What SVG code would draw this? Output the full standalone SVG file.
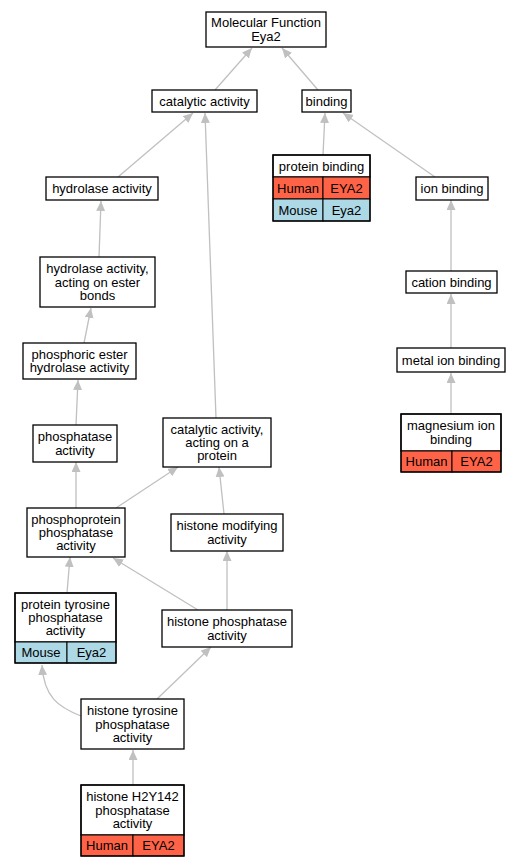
<svg xmlns="http://www.w3.org/2000/svg" width="520" height="867" viewBox="0 0 520 867">
<style>
.bg{fill:#ffffff}
.box{fill:#ffffff;stroke:#000000;stroke-width:1.3}
.hum{fill:#ff6347;stroke:#000000;stroke-width:1}
.mou{fill:#add8e6;stroke:#000000;stroke-width:1}
text{font-family:"Liberation Sans",Arial,sans-serif;font-size:13px;fill:#000000;text-anchor:middle}
.edge{fill:none;stroke:#c0c0c0;stroke-width:1.3;marker-end:url(#arr)}
</style>
<defs>
<marker id="arr" markerUnits="userSpaceOnUse" markerWidth="11" markerHeight="10" refX="10" refY="4.5" orient="auto">
<path d="M0,0 L10,4.5 L0,9 z" fill="#c0c0c0"/>
</marker>
</defs>
<rect class="bg" x="0" y="0" width="520" height="867"/>
<g id="edges">
<path class="edge" d="M215,90 L252,48"/>
<path class="edge" d="M318,90 L282,48"/>
<path class="edge" d="M118,177 L193,113"/>
<path class="edge" d="M216,418 L205,113"/>
<path class="edge" d="M323,155 L325,113"/>
<path class="edge" d="M435,177 L343,113"/>
<path class="edge" d="M99,257 L101,201"/>
<path class="edge" d="M84,343 L91,308"/>
<path class="edge" d="M76,425 L78,380"/>
<path class="edge" d="M451,271 L451,200"/>
<path class="edge" d="M451,348 L451,294"/>
<path class="edge" d="M451,414 L451,373"/>
<path class="edge" d="M76,508 L76,462"/>
<path class="edge" d="M116,508 L178,467"/>
<path class="edge" d="M224,514 L219,467"/>
<path class="edge" d="M67,593 L70,557"/>
<path class="edge" d="M198,610 L113,558"/>
<path class="edge" d="M227,610 L227,551"/>
<path class="edge" d="M157,699 L211,647"/>
<path class="edge" d="M81,716 C58,707 44,697 42,665"/>
<path class="edge" d="M133,785 L133,750"/>
</g>
<g id="mf">
<rect class="box" x="206" y="12" width="120" height="35"/>
<text x="266" y="27.3">Molecular Function</text>
<text x="266" y="40.7">Eya2</text>
</g>
<g id="catalytic">
<rect class="box" x="152" y="90" width="105" height="22"/>
<text x="204.5" y="105.5">catalytic activity</text>
</g>
<g id="binding">
<rect class="box" x="302" y="90" width="49" height="22"/>
<text x="326.5" y="105.5">binding</text>
</g>
<g id="protein_binding">
<rect class="box" x="273" y="155" width="97" height="22"/>
<text x="321.5" y="170.5">protein binding</text>
<rect class="hum" x="273" y="177" width="50" height="22"/>
<rect class="hum" x="323" y="177" width="47" height="22"/>
<rect class="mou" x="273" y="199" width="50" height="22"/>
<rect class="mou" x="323" y="199" width="47" height="22"/>
<text x="298" y="192.5">Human</text>
<text x="346.5" y="192.5">EYA2</text>
<text x="298" y="214.5">Mouse</text>
<text x="346.5" y="214.5">Eya2</text>
<rect x="273" y="155" width="97" height="66" fill="none" stroke="#000" stroke-width="1.3"/>
</g>
<g id="ion_binding">
<rect class="box" x="416" y="177" width="72" height="23"/>
<text x="452" y="193">ion binding</text>
</g>
<g id="hydrolase">
<rect class="box" x="46" y="177" width="112" height="23"/>
<text x="102" y="193">hydrolase activity</text>
</g>
<g id="hydrolase_ester">
<rect class="box" x="40" y="257" width="115" height="50"/>
<text x="97.5" y="273.2">hydrolase activity,</text>
<text x="97.5" y="286.5">acting on ester</text>
<text x="97.5" y="299.8">bonds</text>
</g>
<g id="phosphoric">
<rect class="box" x="23" y="343" width="113" height="36"/>
<text x="79.5" y="358.8">phosphoric ester</text>
<text x="79.5" y="372.2">hydrolase activity</text>
</g>
<g id="cation">
<rect class="box" x="406" y="271" width="91" height="22"/>
<text x="451.5" y="286.5">cation binding</text>
</g>
<g id="metal">
<rect class="box" x="397" y="348" width="108" height="24"/>
<text x="451" y="364.5">metal ion binding</text>
</g>
<g id="magnesium">
<rect class="box" x="401" y="414" width="100" height="37"/>
<text x="451" y="430.3">magnesium ion</text>
<text x="451" y="443.7">binding</text>
<rect class="hum" x="401" y="451" width="51" height="21"/>
<rect class="hum" x="452" y="451" width="49" height="21"/>
<text x="426.5" y="466">Human</text>
<text x="476.5" y="466">EYA2</text>
<rect x="401" y="414" width="100" height="58" fill="none" stroke="#000" stroke-width="1.3"/>
</g>
<g id="phosphatase">
<rect class="box" x="33" y="425" width="84" height="37"/>
<text x="75" y="441.3">phosphatase</text>
<text x="75" y="454.7">activity</text>
</g>
<g id="catalytic_protein">
<rect class="box" x="163" y="418" width="108" height="49"/>
<text x="217" y="433.7">catalytic activity,</text>
<text x="217" y="447">acting on a</text>
<text x="217" y="460.3">protein</text>
</g>
<g id="phosphoprotein">
<rect class="box" x="27" y="508" width="98" height="49"/>
<text x="76" y="523.7">phosphoprotein</text>
<text x="76" y="537">phosphatase</text>
<text x="76" y="550.3">activity</text>
</g>
<g id="histone_modifying">
<rect class="box" x="171" y="514" width="112" height="37"/>
<text x="227" y="530.3">histone modifying</text>
<text x="227" y="543.7">activity</text>
</g>
<g id="protein_tyrosine">
<rect class="box" x="15" y="593" width="101" height="49"/>
<text x="65.5" y="608.7">protein tyrosine</text>
<text x="65.5" y="622">phosphatase</text>
<text x="65.5" y="635.3">activity</text>
<rect class="mou" x="15" y="642" width="52" height="21"/>
<rect class="mou" x="67" y="642" width="49" height="21"/>
<text x="41" y="657">Mouse</text>
<text x="91.5" y="657">Eya2</text>
<rect x="15" y="593" width="101" height="70" fill="none" stroke="#000" stroke-width="1.3"/>
</g>
<g id="histone_phosphatase">
<rect class="box" x="162" y="610" width="130" height="37"/>
<text x="227" y="626.3">histone phosphatase</text>
<text x="227" y="639.7">activity</text>
</g>
<g id="histone_tyrosine">
<rect class="box" x="81" y="699" width="103" height="50"/>
<text x="132.5" y="715.2">histone tyrosine</text>
<text x="132.5" y="728.5">phosphatase</text>
<text x="132.5" y="741.8">activity</text>
</g>
<g id="h2y142">
<rect class="box" x="81" y="785" width="103" height="50"/>
<text x="132.5" y="801.2">histone H2Y142</text>
<text x="132.5" y="814.5">phosphatase</text>
<text x="132.5" y="827.8">activity</text>
<rect class="hum" x="81" y="835" width="52" height="21"/>
<rect class="hum" x="133" y="835" width="51" height="21"/>
<text x="107" y="850">Human</text>
<text x="158.5" y="850">EYA2</text>
<rect x="81" y="785" width="103" height="71" fill="none" stroke="#000" stroke-width="1.3"/>
</g>
</svg>
